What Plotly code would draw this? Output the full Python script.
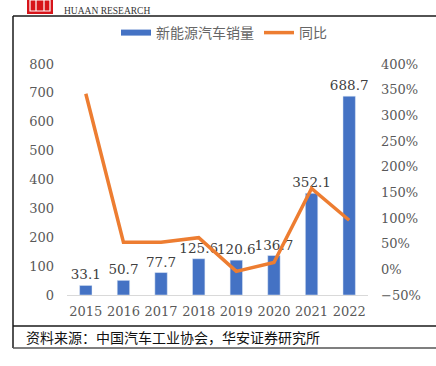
import plotly.graph_objects as go

years = ["2015", "2016", "2017", "2018", "2019", "2020", "2021", "2022"]
sales = [33.1, 50.7, 77.7, 125.6, 120.6, 136.7, 352.1, 688.7]
yoy = [342, 53, 53, 61.7, -4, 13.4, 157.5, 95.6]
bar_name = "新能源汽车销量"
line_name = "同比"
source_text = "资料来源：中国汽车工业协会，华安证券研究所"
brand_text = "HUAAN RESEARCH"

W, H = 436, 366
L, R, T, B = 67, 368, 64, 295


def px(x):
    return (x - L) / (R - L)


def py(y):
    return (B - y) / (B - T)


num_font = "DejaVu Serif"
cjk_font = "Noto Sans CJK SC"
blue = "#4472C4"
orange = "#ED7D31"

fig = go.Figure()
fig.add_trace(go.Bar(
    x=years, y=sales, name=bar_name, marker_color=blue, width=0.33,
    text=[f"{v:.1f}" for v in sales], textposition="outside", constraintext="none",
    textfont=dict(family=num_font, size=13.5, color="#404040"),
    cliponaxis=False, showlegend=False,
))
fig.add_trace(go.Scatter(
    x=[None], y=[None], mode="lines", name=bar_name,
    line=dict(color=blue, width=6), showlegend=True,
))
fig.add_trace(go.Scatter(
    x=years, y=yoy, name=line_name, mode="lines", yaxis="y2",
    line=dict(color=orange, width=3.5), cliponaxis=False,
))

shapes = [
    # frame
    dict(type="line", xref="paper", yref="paper", x0=px(13), x1=px(436), y0=py(16), y1=py(16),
         line=dict(color="#1a1a1a", width=1.5)),
    dict(type="line", xref="paper", yref="paper", x0=px(13), x1=px(13), y0=py(16), y1=py(348),
         line=dict(color="#1a1a1a", width=1.5)),
    dict(type="line", xref="paper", yref="paper", x0=px(13), x1=px(436), y0=py(326), y1=py(326),
         line=dict(color="#1a1a1a", width=1.5)),
    dict(type="line", xref="paper", yref="paper", x0=px(13), x1=px(436), y0=py(348), y1=py(348),
         line=dict(color="#555555", width=1.5)),
    # logo
    dict(type="rect", xref="paper", yref="paper", x0=px(27), x1=px(53), y0=py(0), y1=py(14),
         fillcolor="#D7141A", line=dict(width=0)),
    dict(type="rect", xref="paper", yref="paper", x0=px(30), x1=px(50), y0=py(0), y1=py(11),
         fillcolor="rgba(0,0,0,0)", line=dict(color="white", width=1.2)),
    dict(type="line", xref="paper", yref="paper", x0=px(36), x1=px(36), y0=py(0), y1=py(11),
         line=dict(color="white", width=1.2)),
    dict(type="line", xref="paper", yref="paper", x0=px(44), x1=px(44), y0=py(0), y1=py(11),
         line=dict(color="white", width=1.2)),
]

annotations = [
    dict(text=source_text, xref="paper", yref="paper", x=px(24), y=py(337),
         xanchor="left", yanchor="middle", showarrow=False,
         font=dict(family=cjk_font, size=14, color="#111111")),
    dict(text=brand_text, xref="paper", yref="paper", x=px(62), y=py(10.5),
         xanchor="left", yanchor="middle", showarrow=False,
         font=dict(family="Liberation Serif", size=9.5, color="#333333")),
]

fig.update_layout(
    width=W, height=H,
    margin=dict(l=L, r=W - R, t=T, b=H - B),
    paper_bgcolor="white", plot_bgcolor="white",
    shapes=shapes, annotations=annotations,
    bargap=0.67,
    legend=dict(orientation="h", x=px(224), xanchor="center", y=py(33), yanchor="middle",
                font=dict(family=cjk_font, size=14, color="#666666"),
                bgcolor="rgba(0,0,0,0)"),
    xaxis=dict(type="category", showline=True, linecolor="#D9D9D9", linewidth=1,
               showgrid=False, ticks="", ticklabelstandoff=4,
               tickfont=dict(family=num_font, size=13, color="#595959")),
    yaxis=dict(range=[0, 800], dtick=100, showgrid=False, zeroline=False, ticks="",
               ticklabelstandoff=12,
               tickfont=dict(family=num_font, size=13, color="#595959")),
    yaxis2=dict(range=[-50, 400], dtick=50, overlaying="y", side="right", showgrid=False,
                zeroline=False, ticks="", ticksuffix="%", ticklabelstandoff=12,
                tickfont=dict(family=num_font, size=13, color="#595959")),
)

fig.write_html("out.html", config={"displayModeBar": False},
               post_script="document.body.style.margin='0';document.body.style.padding='0';")
